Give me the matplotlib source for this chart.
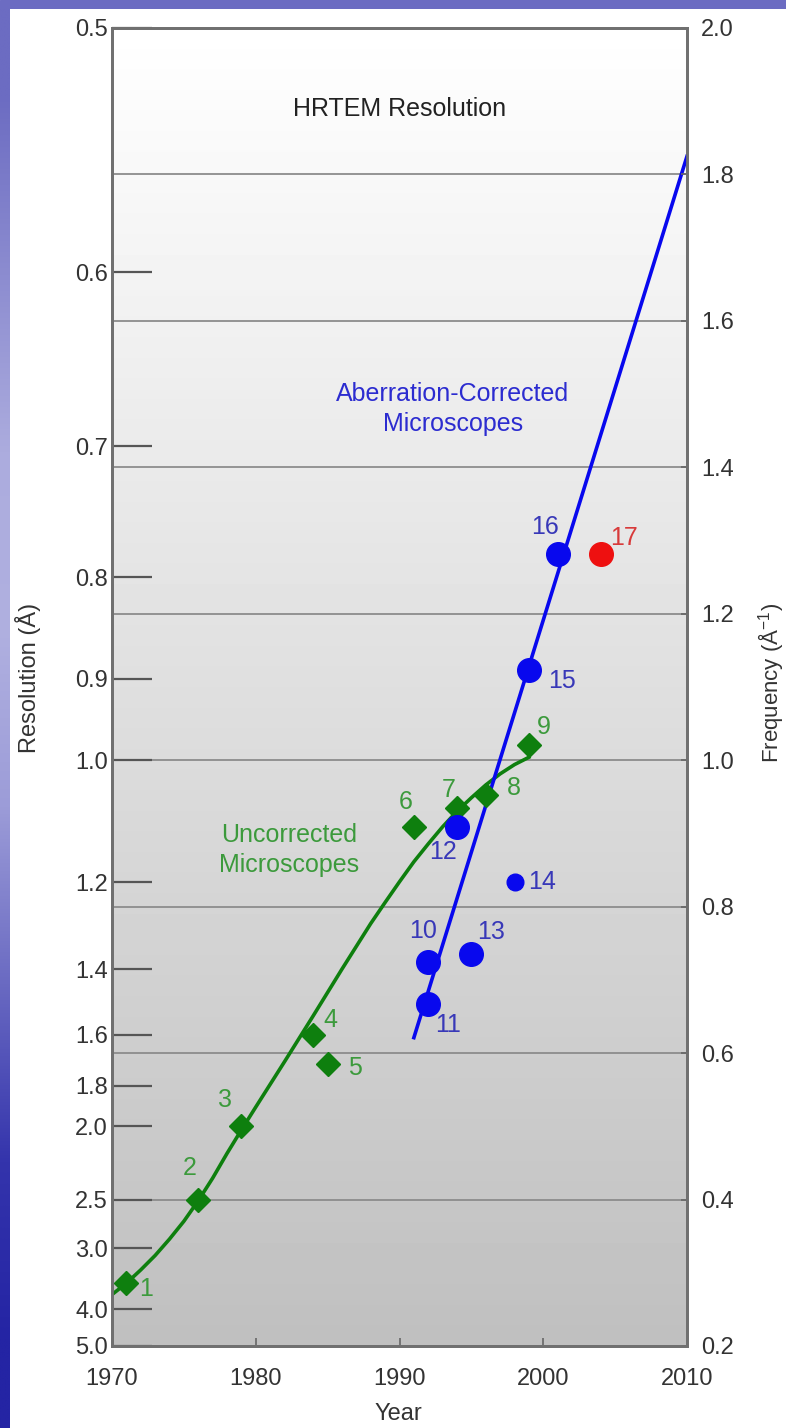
import numpy as np
import matplotlib.pyplot as plt
from matplotlib.colors import to_rgb

plt.rcParams['font.family'] = ['Liberation Sans', 'DejaVu Sans']
plt.rcParams['mathtext.default'] = 'regular'

# uncorrected microscopes (green diamonds): year, resolution in Angstrom
unc_year = [1971, 1976, 1979, 1984, 1985, 1991, 1994, 1996, 1999]
unc_res = [3.5, 2.5, 2.0, 1.6, 1.71, 1.10, 1.07, 1.05, 0.98]
unc_id = ['1', '2', '3', '4', '5', '6', '7', '8', '9']

# aberration-corrected microscopes (blue dots)
cor_year = [1992, 1992, 1994, 1995, 1998, 1999, 2001]
cor_res = [1.38, 1.50, 1.10, 1.36, 1.20, 0.89, 0.78]
cor_id = ['10', '11', '12', '13', '14', '15', '16']

# red point
new_year = [2004]
new_res = [0.78]
new_id = ['17']

# trend curves
trend_unc_year = [1970, 1971, 1972, 1973, 1974, 1975, 1976, 1977, 1978, 1979, 1980, 1982,
                  1984, 1986, 1988, 1989, 1990, 1991, 1992, 1993, 1994, 1995, 1996, 1997,
                  1998, 1999]
trend_unc_res = [3.70, 3.50, 3.29, 3.09, 2.89, 2.70, 2.51, 2.33, 2.16, 2.02, 1.90, 1.70,
                 1.536, 1.399, 1.287, 1.241, 1.199, 1.161, 1.129, 1.100, 1.075, 1.054, 1.035, 1.019,
                 1.006, 0.996]
trend_cor_year = [1991, 2010]
trend_cor_res = [1.61, 0.548]

res_ticks = [0.5, 0.6, 0.7, 0.8, 0.9, 1.0, 1.2, 1.4, 1.6, 1.8, 2.0, 2.5, 3.0, 4.0, 5.0]
freq_ticks = [0.2, 0.4, 0.6, 0.8, 1.0, 1.2, 1.4, 1.6, 1.8, 2.0]
year_ticks = [1970, 1980, 1990, 2000, 2010]

# label offsets (points) for the numbered markers
unc_off = [(14, -4), (-6, 23), (-12, 19), (12, 11), (20, -3), (-6, 18), (-6, 13), (20, 5), (11, 13)]
cor_off = [(-4, 22), (14, -15), (-10, -18), (14, 16), (20, 0), (24, -8), (-9, 19)]
new_off = [(17, 11)]

GREEN = '#0e7f0e'
GREEN_TXT = '#3c9a3c'
BLUE = '#0808ee'
BLUE_TXT = '#3838b8'
RED = '#ee1010'
RED_TXT = '#d83a3a'
TXT = '#333333'

fig = plt.figure(figsize=(7.86, 14.28), dpi=100)

# slide decoration: blue bar on top and gradient stripe on the left
deco_top = fig.add_axes([0, 1 - 9 / 1428, 1, 9 / 1428])
deco_top.add_patch(plt.Rectangle((0, 0), 1, 1, color='#6c6cc2', transform=deco_top.transAxes))
deco_top.axis('off')
stripe_cols = ['#6c6cc2', '#8c8cd0', '#acacde', '#b0b0e0', '#9c9cd8', '#6a6ac2', '#3434ac', '#2424a4']
deco_left = fig.add_axes([0, 0, 10 / 786, 1 - 9 / 1428])
deco_left.imshow(np.array([to_rgb(c) for c in stripe_cols])[:, None, :],
                 aspect='auto', extent=[0, 1, 0, 1], interpolation='bilinear')
deco_left.axis('off')

ax = fig.add_axes([112 / 786, 1 - 1346 / 1428, 575 / 786, 1318 / 1428])
ax.set_xlim(1970, 2010)
ax.set_ylim(0.2, 2.0)

# grey background gradient, white on top
grad = np.linspace(0.75, 1.0, 256)[:, None]
ax.imshow(grad, extent=[1970, 2010, 0.2, 2.0], origin='lower', aspect='auto',
          cmap='gray', vmin=0, vmax=1, zorder=0)

for f in freq_ticks[1:-1]:
    ax.axhline(f, color='#8c8c8c', lw=1.3, zorder=1)

# trend lines
ax.plot(trend_unc_year, 1 / np.array(trend_unc_res), color=GREEN, lw=2.6, zorder=3,
        solid_joinstyle='round')
ax.plot(trend_cor_year, 1 / np.array(trend_cor_res), color=BLUE, lw=2.6, zorder=3)

# markers
ax.plot(unc_year, 1 / np.array(unc_res), 'D', color=GREEN, ms=12, zorder=4)
cor_ms = [17, 17, 17, 17, 12, 17, 17]
for yr, r, m in zip(cor_year, cor_res, cor_ms):
    ax.plot(yr, 1 / r, 'o', color=BLUE, ms=m, zorder=4)
ax.plot(new_year, 1 / np.array(new_res), 'o', color=RED, ms=17, zorder=4)

for yr, r, t, off in zip(unc_year, unc_res, unc_id, unc_off):
    ax.annotate(t, (yr, 1 / r), xytext=off, textcoords='offset points',
                ha='center', va='center', color=GREEN_TXT, fontsize=18, zorder=5)
for yr, r, t, off in zip(cor_year, cor_res, cor_id, cor_off):
    ax.annotate(t, (yr, 1 / r), xytext=off, textcoords='offset points',
                ha='center', va='center', color=BLUE_TXT, fontsize=18, zorder=5)
for yr, r, t, off in zip(new_year, new_res, new_id, new_off):
    ax.annotate(t, (yr, 1 / r), xytext=off, textcoords='offset points',
                ha='center', va='center', color=RED_TXT, fontsize=18, zorder=5)

ax.text(1990, 1.89, 'HRTEM Resolution', ha='center', va='center', color='#222222', fontsize=18)
ax.text(1993.7, 1.48, 'Aberration-Corrected\nMicroscopes', ha='center', va='center',
        color='#2c2cd0', fontsize=18, linespacing=1.3)
ax.text(1982.3, 0.877, 'Uncorrected\nMicroscopes', ha='center', va='center',
        color=GREEN_TXT, fontsize=18, linespacing=1.3)

# left axis: resolution ticks placed at 1/res
ax.set_yticks([1 / r for r in res_ticks])
ax.set_yticklabels([f'{r:.1f}' for r in res_ticks])
ax.tick_params(axis='y', direction='in', length=29, width=1.6, color='#555555',
               labelsize=17, labelcolor=TXT, pad=3)
ax.set_xticks(year_ticks)
ax.set_xticklabels([str(y) for y in year_ticks])
ax.tick_params(axis='x', direction='in', length=6, width=1.2, color='#666666',
               labelsize=17, labelcolor=TXT, pad=16)

ax2 = ax.twinx()
ax2.set_ylim(0.2, 2.0)
ax2.set_yticks(freq_ticks)
ax2.set_yticklabels([f'{f:.1f}' for f in freq_ticks])
ax2.tick_params(axis='y', direction='in', length=4, width=1.2, color='#666666',
                labelsize=17, labelcolor=TXT, pad=10)

for a in (ax, ax2):
    for s in a.spines.values():
        s.set_color('#707070')
        s.set_linewidth(2)

fig.text(28 / 786, 1 - 678 / 1428, 'Resolution (Å)', rotation=90, ha='center', va='center',
         fontsize=17, color=TXT)
fig.text(771 / 786, 1 - 683 / 1428, 'Frequency (Å$^{-1}$)', rotation=90, ha='center', va='center',
         fontsize=16, color=TXT)
fig.text(398 / 786, 1 - 1414 / 1428, 'Year', ha='center', va='center', fontsize=17, color=TXT)

fig.savefig('out.png', dpi=100)
